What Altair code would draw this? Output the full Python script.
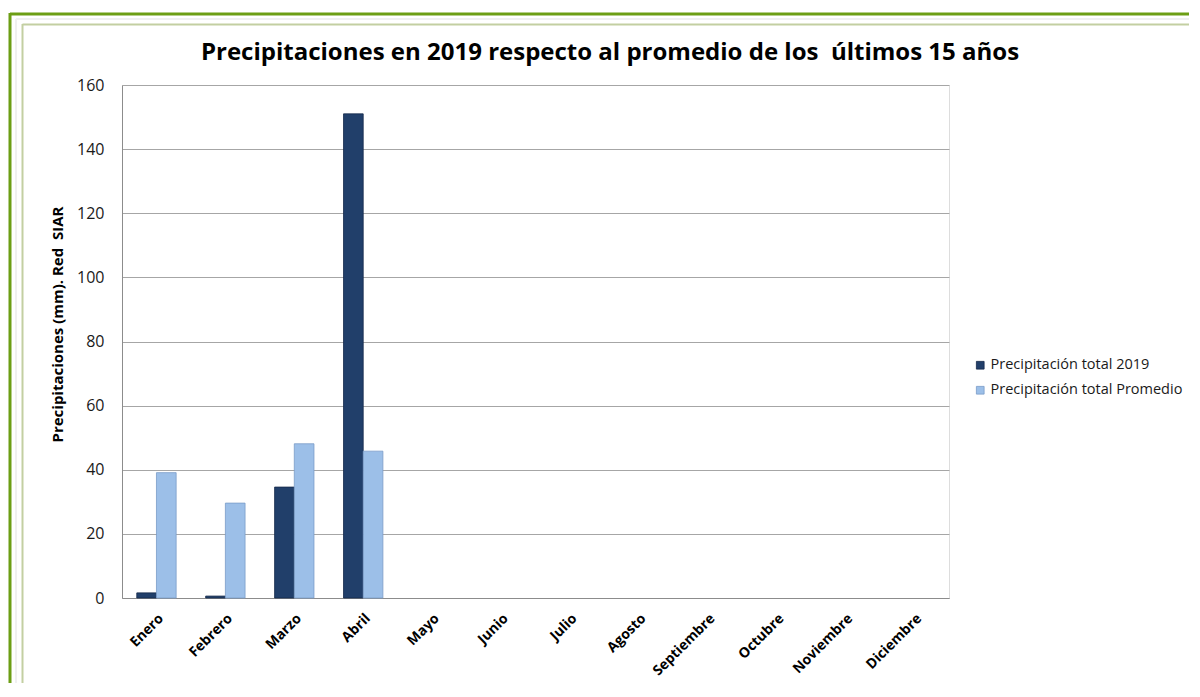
import altair as alt
import pandas as pd

months = ["Enero", "Febrero", "Marzo", "Abril", "Mayo", "Junio", "Julio",
          "Agosto", "Septiembre", "Octubre", "Noviembre", "Diciembre"]
series = ["Precipitación total 2019", "Precipitación total Promedio"]
values_2019 = [1.6, 0.6, 34.6, 151.0]
values_prom = [39.1, 29.6, 48.1, 45.8]
colors = ["#213F6A", "#9CBFE8"]
strokes = ["#14284A", "#7A9CC8"]
title_text = "Precipitaciones en 2019 respecto al promedio de los\u00a0 últimos 15 años"
y_title = "Precipitaciones (mm). Red\u00a0 SIAR"

rows = []
for i, v in enumerate(values_2019):
    rows.append({"mes": months[i], "serie": series[0], "valor": v})
for i, v in enumerate(values_prom):
    rows.append({"mes": months[i], "serie": series[1], "valor": v})
df = pd.DataFrame(rows)

W, H = 827, 513
PL, PT = 114, 77

bars = alt.Chart(df).mark_bar(strokeWidth=0.8).encode(
    x=alt.X("mes:N", sort=months,
            scale=alt.Scale(domain=months, paddingInner=0.4286, paddingOuter=0.2143),
            axis=alt.Axis(title=None, labelAngle=-45, labelAlign="right", labelBaseline="top",
                          labelFont="Open Sans", labelFontSize=14, labelFontWeight="bold",
                          labelColor="#000000", labelPadding=13, ticks=False,
                          domainColor="#8C8C8C", domainWidth=1, grid=False)),
    xOffset=alt.XOffset("serie:N", sort=series, scale=alt.Scale(domain=series, paddingInner=0, paddingOuter=0)),
    y=alt.Y("valor:Q",
            scale=alt.Scale(domain=[0, 160], nice=False),
            axis=alt.Axis(title=y_title, values=list(range(0, 161, 20)),
                          labelFont="Open Sans", labelFontSize=16, labelColor="#1a1a1a",
                          labelPadding=18, ticks=False, domainColor="#8C8C8C",
                          gridColor="#A6A6A6", gridWidth=1,
                          titleFont="Open Sans", titleFontSize=15, titleFontWeight="bold",
                          titleColor="#000000", titleX=-65, titleY=239, titleAngle=270,
                          titleAlign="center", titleBaseline="middle")),
    color=alt.Color("serie:N", sort=series,
                    scale=alt.Scale(domain=series, range=colors),
                    legend=alt.Legend(title=None, orient="none", legendX=851, legendY=273,
                                      symbolType="square", symbolSize=60, symbolStrokeWidth=0.8,
                                      labelFont="Open Sans", labelFontSize=14.5, labelColor="#1a1a1a",
                                      labelLimit=0, rowPadding=10, labelOffset=3)),
    stroke=alt.Stroke("serie:N", sort=series, scale=alt.Scale(domain=series, range=strokes), legend=None),
)

frame_data = alt.Data(values=[{}])

def hrule(x1, x2, y, color, w):
    return alt.Chart(frame_data).mark_rule(color=color, strokeWidth=w).encode(
        x=alt.value(x1), x2=alt.value(x2), y=alt.value(y))

def vrule(x, y1, y2, color, w):
    return alt.Chart(frame_data).mark_rule(color=color, strokeWidth=w).encode(
        x=alt.value(x), y=alt.value(y1), y2=alt.value(y2))

frames = [
    hrule(-112, 1080, -71, "#6C9E14", 3),
    vrule(-112, -72, 620, "#6C9E14", 3),
    hrule(-106, 1080, -66, "#F0F0F0", 2),
    vrule(-106, -66, 620, "#F0F0F0", 2),
    hrule(-99.5, 1080, -60.5, "#C3CFA2", 2),
    vrule(-99.5, -61, 610, "#C3CFA2", 2),
]

title = alt.Chart(frame_data).mark_text(
    text=title_text, font="Open Sans", fontSize=24, fontWeight="bold", color="#000000",
    align="center", baseline="middle").encode(x=alt.value(488), y=alt.value(-32))

chart = alt.layer(*frames, title, bars).properties(
    width=W, height=H,
    padding={"left": PL, "top": PT, "right": 240, "bottom": 85},
    autosize=alt.AutoSizeParams(type="none"),
).configure_view(stroke=None).configure(background="#FFFFFF")

chart.save("out.html", embed_options={"renderer": "svg", "actions": False})
